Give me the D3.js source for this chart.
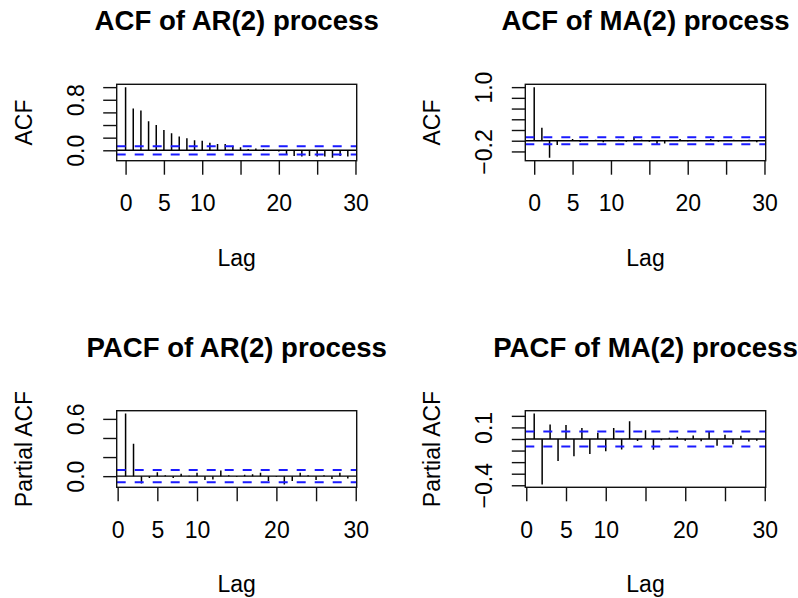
<!DOCTYPE html>
<html>
<head>
<meta charset="utf-8">
<script src="https://cdn.jsdelivr.net/npm/d3@7"></script>
<style>
  html, body { margin: 0; padding: 0; background: #fff; }
  svg { display: block; }
  text { font-family: "Liberation Sans", Arial, sans-serif; fill: #000; }
</style>
</head>
<body>
<div id="chart"></div>
<script>
// ---- data ----
const lagsACF = [0,1,2,3,4,5,6,7,8,9,10,11,12,13,14,15,16,17,18,19,20,21,22,23,24,25,26,27,28,29];
const lagsPACF = [1,2,3,4,5,6,7,8,9,10,11,12,13,14,15,16,17,18,19,20,21,22,23,24,25,26,27,28,29];
const acfAR = [1.0, 0.66, 0.63, 0.46, 0.40, 0.32, 0.27, 0.22, 0.19, 0.16, 0.15, 0.12, 0.10, 0.10, 0.07,
               0.05, 0.02, 0.03, 0.02, -0.01, -0.02, -0.07, -0.09, -0.10, -0.09, -0.10, -0.10, -0.12, -0.09, -0.10];
const acfMA = [1.0, 0.24, -0.32, -0.08, 0.01, 0.03, -0.02, 0.01, 0.02, -0.03, 0.01, 0.02, -0.02, 0.07, 0.02,
               -0.02, -0.07, -0.05, 0.01, 0.03, -0.01, 0.02, 0.01, 0.03, -0.02, 0.01, 0.02, -0.01, 0.02, -0.03];
const pacfAR = [0.656, 0.34, -0.076, -0.02, 0.04, 0.01, -0.02, 0.025, 0.005, 0.035, -0.04, -0.035, 0.06, 0.01,
                -0.01, 0.015, 0.02, 0.035, -0.05, -0.01, -0.087, -0.05, 0.035, 0.01, -0.04, 0.01, -0.03, 0.035, -0.025];
const pacfMA = [0.22, -0.393, 0.125, -0.19, 0.12, -0.15, 0.096, -0.13, 0.055, -0.107, 0.096, -0.09, 0.154, -0.017,
                0.075, -0.093, -0.01, 0.01, 0.02, -0.015, 0.03, -0.02, 0.062, -0.058, 0.036, -0.046, 0.028, -0.022, -0.015];
const ciLimit = 0.065;

const xTicks = [0, 5, 10, 15, 20, 25, 30];
const xTickLabels = ["0", "5", "10", "", "20", "", "30"];

const titles = ["ACF of AR(2) process", "ACF of MA(2) process", "PACF of AR(2) process", "PACF of MA(2) process"];
const yTitles = ["ACF", "ACF", "Partial ACF", "Partial ACF"];
const xTitle = "Lag";

const yTicksP1 = [0, 0.2, 0.4, 0.6, 0.8, 1.0];
const yLabelsP1 = ["0.0", "", "", "", "0.8", ""];
const yTicksP2 = [-0.2, 0, 0.2, 0.4, 0.6, 0.8, 1.0];
const yLabelsP2 = ["\u22120.2", "", "", "", "", "", "1.0"];
const yTicksP3 = [0, 0.2, 0.4, 0.6];
const yLabelsP3 = ["0.0", "", "", "0.6"];
const yTicksP4 = [-0.4, -0.3, -0.2, -0.1, 0, 0.1, 0.2];
const yLabelsP4 = ["\u22120.4", "", "", "", "", "0.1", ""];

// ---- layout ----
const W = 798, H = 598;
const colX = [[116.7, 356.7], [525.3, 765.7]];
const rowY = [[84.3, 160.7], [410.7, 487.3]];

const panels = [
  { lags: lagsACF,  vals: acfAR,  yT: yTicksP1, yL: yLabelsP1, c: 0, r: 0 },
  { lags: lagsACF,  vals: acfMA,  yT: yTicksP2, yL: yLabelsP2, c: 1, r: 0 },
  { lags: lagsPACF, vals: pacfAR, yT: yTicksP3, yL: yLabelsP3, c: 0, r: 1 },
  { lags: lagsPACF, vals: pacfMA, yT: yTicksP4, yL: yLabelsP4, c: 1, r: 1 },
];

const svg = d3.select("#chart").append("svg").attr("width", W).attr("height", H);

function expand(lo, hi) { const d = (hi - lo) * 0.04; return [lo - d, hi + d]; }

panels.forEach((p, i) => {
  const [x0, x1] = colX[p.c];
  const [y0, y1] = rowY[p.r];
  const xDom = expand(d3.min(p.lags), d3.max(p.lags));
  const yDom = expand(Math.min(d3.min(p.vals), -ciLimit), Math.max(d3.max(p.vals), ciLimit));
  const x = d3.scaleLinear().domain(xDom).range([x0, x1]);
  const y = d3.scaleLinear().domain(yDom).range([y1, y0]);
  const g = svg.append("g");
  const clipId = "clip" + i;
  svg.append("clipPath").attr("id", clipId).append("rect")
    .attr("x", x0).attr("y", y0).attr("width", x1 - x0).attr("height", y1 - y0);

  const plot = g.append("g").attr("clip-path", `url(#${clipId})`);
  // bars (type = "h")
  plot.selectAll("line.bar").data(p.lags.map((l, k) => [l, p.vals[k]])).enter().append("line")
    .attr("x1", d => x(d[0])).attr("x2", d => x(d[0]))
    .attr("y1", y(0)).attr("y2", d => y(d[1]))
    .attr("stroke", "#000").attr("stroke-width", 1.5);
  // zero line
  plot.append("line").attr("x1", x0).attr("x2", x1).attr("y1", y(0)).attr("y2", y(0))
    .attr("stroke", "#000").attr("stroke-width", 1.4);
  // confidence limits
  [ciLimit, -ciLimit].forEach(v => {
    plot.append("line").attr("x1", x0).attr("x2", x1).attr("y1", y(v)).attr("y2", y(v))
      .attr("stroke", "#1a1aff").attr("stroke-width", 2).attr("stroke-dasharray", "9 9");
  });

  // box
  g.append("rect").attr("x", x0).attr("y", y0).attr("width", x1 - x0).attr("height", y1 - y0)
    .attr("fill", "none").attr("stroke", "#111").attr("stroke-width", 1.4);

  // x axis
  const xa = d3.axisBottom(x).tickValues(xTicks).tickSize(14).tickSizeOuter(0)
    .tickFormat((d, k) => xTickLabels[k]);
  const xg = g.append("g").attr("transform", `translate(0,${y1})`).call(xa);
  xg.select(".domain").remove();
  xg.selectAll(".tick line").attr("stroke", "#111").attr("stroke-width", 1.4);
  xg.selectAll(".tick text").attr("font-size", 23).attr("fill", "#000")
    .attr("font-family", '"Liberation Sans", Arial, sans-serif')
    .attr("dy", null).attr("y", 50.5);

  // y axis
  const ya = d3.axisLeft(y).tickValues(p.yT).tickSize(13.5).tickSizeOuter(0)
    .tickFormat((d, k) => p.yL[k]);
  const yg = g.append("g").attr("transform", `translate(${x0},0)`).call(ya);
  yg.select(".domain").remove();
  yg.selectAll(".tick line").attr("stroke", "#111").attr("stroke-width", 1.4);
  yg.selectAll(".tick text").attr("font-size", 23).attr("fill", "#000")
    .attr("font-family", '"Liberation Sans", Arial, sans-serif')
    .attr("x", null).attr("dy", null).attr("text-anchor", "middle")
    .attr("transform", "translate(-33,0) rotate(-90)");

  // titles
  const cx = (x0 + x1) / 2, cy = (y0 + y1) / 2;
  g.append("text").attr("x", cx).attr("y", y0 - 54).attr("text-anchor", "middle")
    .attr("font-size", 27.6).attr("font-weight", "bold").text(titles[i]);
  g.append("text").attr("x", cx).attr("y", y1 + 105).attr("text-anchor", "middle")
    .attr("font-size", 23).text(xTitle);
  g.append("text").attr("transform", `translate(${x0 - 85},${cy}) rotate(-90)`)
    .attr("text-anchor", "middle").attr("font-size", 23).text(yTitles[i]);
});
</script>
</body>
</html>
